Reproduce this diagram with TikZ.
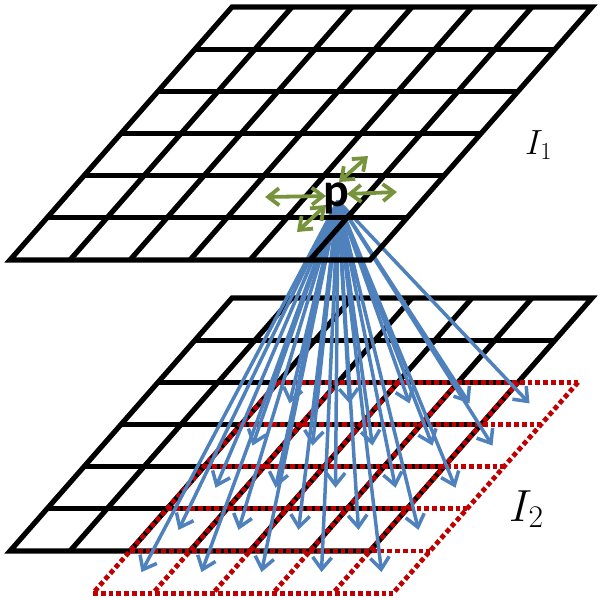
\RequirePackage{fix-cm}
\documentclass[tikz,border=0pt]{standalone}
\usepackage{fontspec}
\newfontfamily\pfont{Carlito}
\usetikzlibrary{arrows.meta}
\definecolor{gridred}{RGB}{192,0,0}
\definecolor{fanblue}{RGB}{79,129,189}
\definecolor{motiongreen}{RGB}{119,147,60}
\begin{document}
\begin{tikzpicture}[x=1pt,y=-1pt,
  blackgrid/.style={line width=5.2pt, black, line join=miter},
  redgrid/.style={line width=4.8pt, gridred, dash pattern=on 4.8pt off 3pt},
  fanarrow/.style={line width=3.5pt, fanblue, -{Straight Barb[length=12pt,width=19pt]}},
  greenarrow/.style={line width=3.8pt, motiongreen, {Straight Barb[length=11pt,width=17pt]}-{Straight Barb[length=11pt,width=17pt]}},
  lbl/.style={inner sep=0pt, anchor=base west}]
\useasboundingbox (0,0) rectangle (600,600);
% bottom grid (I2)
\foreach \i in {1,...,5}
  \draw[blackgrid] ({232-37*\i},{298+42.17*\i}) -- ({592-37*\i},{298+42.17*\i});
\foreach \k in {1,...,5}
  \draw[blackgrid] ({232+60*\k},298) -- ({10+60*\k},551);
\draw[blackgrid] (232,298) -- (592,298) -- (370,551) -- (10,551) -- cycle;
% red dotted grid
\foreach \i in {2,...,7}
  \draw[redgrid] ({352-37*\i},{298+42.17*\i}) -- ({652-37*\i},{298+42.17*\i});
\foreach \k in {2,...,7}
  \draw[redgrid] ({158+60*\k},382.3) -- ({-27+60*\k},593.2);
% blue fan of arrows
\coordinate (P) at (338,201);
\foreach \c in {0,...,4}{
  \foreach \r in {0,...,4}{
    \coordinate (t\c\r) at ({232+60*(2.5+\c)-37*(2.5+\r)},{298+42.17*(2.5+\r)});
    \draw[fanarrow] (P) -- (t\c\r);
  }
}
% top grid (I1)
\foreach \i in {1,...,5}
  \draw[blackgrid] ({232-37*\i},{7+42.17*\i}) -- ({592-37*\i},{7+42.17*\i});
\foreach \k in {1,...,5}
  \draw[blackgrid] ({232+60*\k},7) -- ({10+60*\k},260);
\draw[blackgrid] (232,7) -- (592,7) -- (370,260) -- (10,260) -- cycle;
% green motion arrows
\coordinate (gl1) at (326,196); \coordinate (gl2) at (265,197);
\coordinate (gr1) at (347,194); \coordinate (gr2) at (397,192);
\coordinate (gu1) at (339,182); \coordinate (gu2) at (368,156);
\coordinate (gd1) at (326,205); \coordinate (gd2) at (297,232);
\draw[greenarrow] (gl1) -- (gl2);
\draw[greenarrow] (gr1) -- (gr2);
\draw[greenarrow] (gu1) -- (gu2);
\draw[greenarrow] (gd1) -- (gd2);
% labels
\node[inner sep=0pt] (p) at (336.5,198.5) {\pfont\bfseries\fontsize{48}{50}\selectfont p};
\node[lbl] (I1) at (525,154) {\fontsize{35}{38}\selectfont $I_1$};
\node[lbl] (I2) at (509,521) {\fontsize{45}{48}\selectfont $I_2$};
\end{tikzpicture}
\end{document}
